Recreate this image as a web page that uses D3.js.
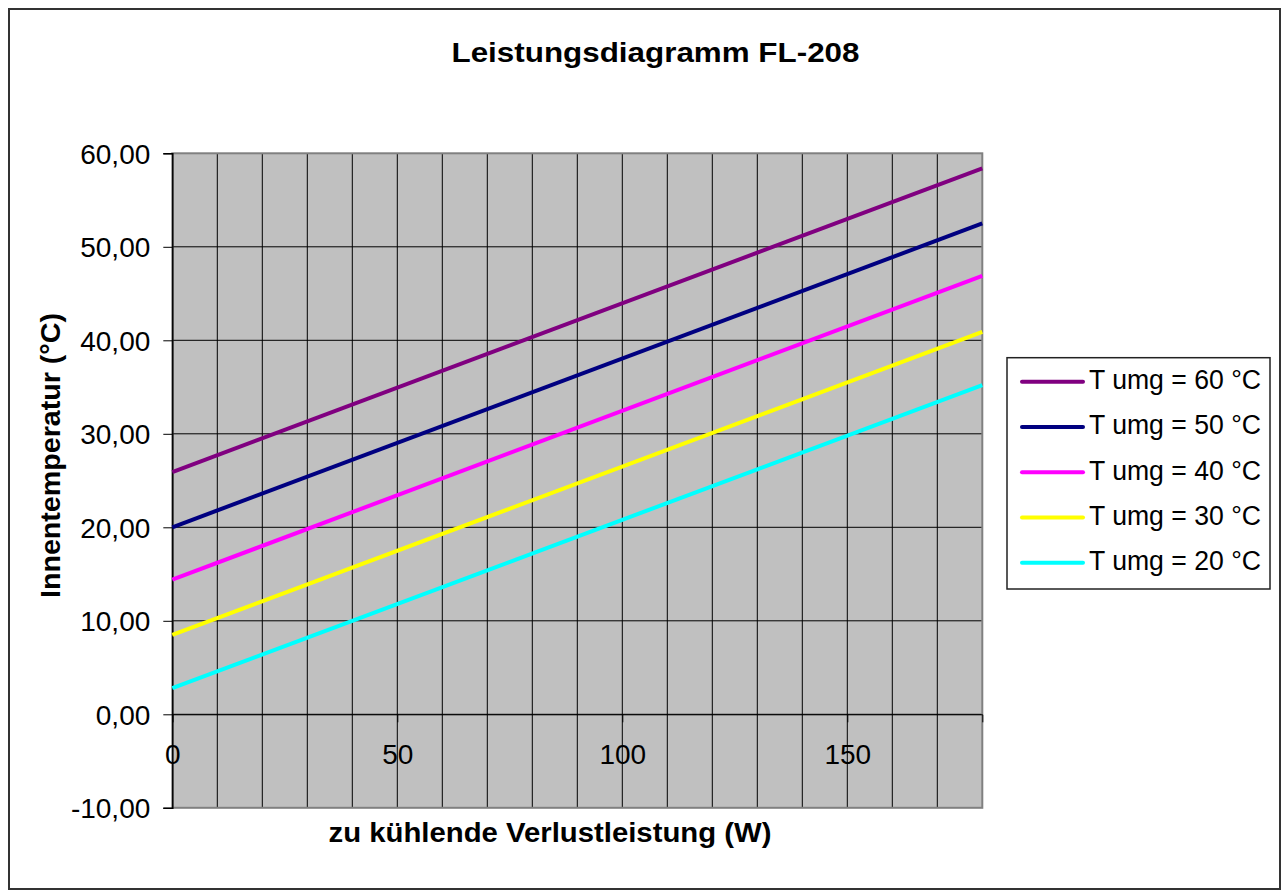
<!DOCTYPE html>
<html>
<head>
<meta charset="utf-8">
<script src="https://cdn.jsdelivr.net/npm/d3@7/dist/d3.min.js"></script>
<style>
  body { margin: 0; background: #fff; }
  svg text { font-family: "Liberation Sans", Arial, sans-serif; fill: #000; }
  .labels { font-weight: bold; }
</style>
</head>
<body>
<div id="chart"></div>
<script>
// chart data
const xValues = [0, 180];
const seriesNames = ["T umg = 60 °C", "T umg = 50 °C", "T umg = 40 °C", "T umg = 30 °C", "T umg = 20 °C"];
const t60 = [25.9, 58.4];
const t50 = [20.0, 52.5];
const t40 = [14.4, 46.9];
const t30 = [8.5, 40.9];
const t20 = [2.8, 35.2];
const colors = ["#800080", "#000080", "#ff00ff", "#ffff00", "#00ffff"];
const yTicks = [-10, 0, 10, 20, 30, 40, 50, 60];
const xTicks = [0, 50, 100, 150];

function init() {
    const W = 1283, H = 893;
    const svg = d3.select('#chart')
        .append('svg')
        .attr('width', W)
        .attr('height', H);

    // outer frame
    svg.append('rect')
        .attr('x', 9).attr('y', 9)
        .attr('width', 1271).attr('height', 880)
        .attr('fill', '#fff')
        .attr('stroke', '#333')
        .attr('stroke-width', 2);

    const plot = {left: 172.3, right: 982.3, top: 153.3, bottom: 807.8};

    const xScale = d3.scaleLinear()
        .domain([0, 180])
        .range([plot.left, plot.right]);
    const yScale = d3.scaleLinear()
        .domain([-10, 60])
        .range([plot.bottom, plot.top]);

    // plot background
    svg.append('rect')
        .attr('x', plot.left).attr('y', plot.top)
        .attr('width', plot.right - plot.left)
        .attr('height', plot.bottom - plot.top)
        .attr('fill', '#c0c0c0');

    // grid
    svg.append('g').selectAll('line')
        .data(xScale.ticks(18).filter(d => d > 0 && d < 180))
        .join('line')
        .attr('x1', d => xScale(d)).attr('x2', d => xScale(d))
        .attr('y1', plot.top).attr('y2', plot.bottom)
        .attr('stroke', '#000').attr('stroke-width', 1);
    svg.append('g').selectAll('line')
        .data(yTicks.filter(d => d > -10 && d < 60))
        .join('line')
        .attr('x1', plot.left).attr('x2', plot.right)
        .attr('y1', d => yScale(d)).attr('y2', d => yScale(d))
        .attr('stroke', '#000').attr('stroke-width', 1);

    // plot border
    svg.append('rect')
        .attr('x', plot.left).attr('y', plot.top)
        .attr('width', plot.right - plot.left)
        .attr('height', plot.bottom - plot.top)
        .attr('fill', 'none')
        .attr('stroke', '#808080')
        .attr('stroke-width', 2);

    // y axis (German decimal comma, plain hyphen for minus)
    const de = d3.formatLocale({decimal: ",", thousands: ".", grouping: [3], currency: ["", "€"], minus: "-"});
    const yAxis = d3.axisLeft(yScale)
        .tickValues(yTicks)
        .tickSize(9)
        .tickPadding(13)
        .tickFormat(de.format(".2f"));
    const gy = svg.append('g')
        .attr('transform', `translate(${plot.left},0)`)
        .call(yAxis);
    gy.select('.domain').attr('stroke', '#000').attr('stroke-width', 1.5);
    gy.selectAll('.tick line').attr('stroke', '#000');
    gy.selectAll('.tick text')
        .style('font-size', '28px')
        .attr('dy', '0.35em');

    // x axis sits on y = 0
    const xAxis = d3.axisBottom(xScale)
        .tickValues(xTicks)
        .tickSize(8)
        .tickPadding(22)
        .tickFormat(d3.format("d"));
    const gx = svg.append('g')
        .attr('transform', `translate(0,${yScale(0)})`)
        .call(xAxis);
    gx.select('.domain').attr('stroke', '#000').attr('stroke-width', 1);
    gx.selectAll('.tick line').attr('stroke', '#000');
    gx.selectAll('.tick text').style('font-size', '28px');

    // series lines
    const series = [t60, t50, t40, t30, t20];
    const line = d3.line()
        .x((d, i) => xScale(xValues[i]))
        .y(d => yScale(d));
    svg.append('g').selectAll('path')
        .data(series)
        .join('path')
        .attr('d', d => line(d))
        .attr('fill', 'none')
        .attr('stroke', (d, i) => colors[i])
        .attr('stroke-width', 4);

    // legend
    function addLegend() {
        const lg = svg.append('g');
        lg.append('rect')
            .attr('x', 1007).attr('y', 357.7)
            .attr('width', 263).attr('height', 231.3)
            .attr('fill', '#fff')
            .attr('stroke', '#222')
            .attr('stroke-width', 1.5);
        const rowY = i => 381.7 + i * 45.25;
        lg.selectAll('line')
            .data(seriesNames)
            .join('line')
            .attr('x1', 1022).attr('x2', 1083)
            .attr('y1', (d, i) => rowY(i)).attr('y2', (d, i) => rowY(i))
            .attr('stroke', (d, i) => colors[i])
            .attr('stroke-width', 4)
            .attr('stroke-linecap', 'round');
        lg.selectAll('text')
            .data(seriesNames)
            .join('text')
            .attr('x', 1089)
            .attr('y', (d, i) => rowY(i) + 7.5)
            .style('font-size', '27px')
            .attr('textLength', 172)
            .attr('lengthAdjust', 'spacingAndGlyphs')
            .text(d => d);
    }
    addLegend();

    // titles
    svg.append('text')
        .attr('x', 655.5).attr('y', 61.7)
        .attr('text-anchor', 'middle')
        .attr('class', 'labels')
        .style('font-size', '28px')
        .attr('textLength', 408)
        .attr('lengthAdjust', 'spacingAndGlyphs')
        .text('Leistungsdiagramm FL-208');

    svg.append('text')
        .attr('x', 550).attr('y', 841.7)
        .attr('text-anchor', 'middle')
        .attr('class', 'labels')
        .style('font-size', '27px')
        .attr('textLength', 443)
        .attr('lengthAdjust', 'spacingAndGlyphs')
        .text('zu kühlende Verlustleistung (W)');

    svg.append('text')
        .attr('transform', 'translate(60,455.5) rotate(-90)')
        .attr('text-anchor', 'middle')
        .attr('class', 'labels')
        .style('font-size', '27px')
        .attr('textLength', 285)
        .attr('lengthAdjust', 'spacingAndGlyphs')
        .text('Innentemperatur (°C)');
}

window.addEventListener('load', init);
</script>
</body>
</html>
